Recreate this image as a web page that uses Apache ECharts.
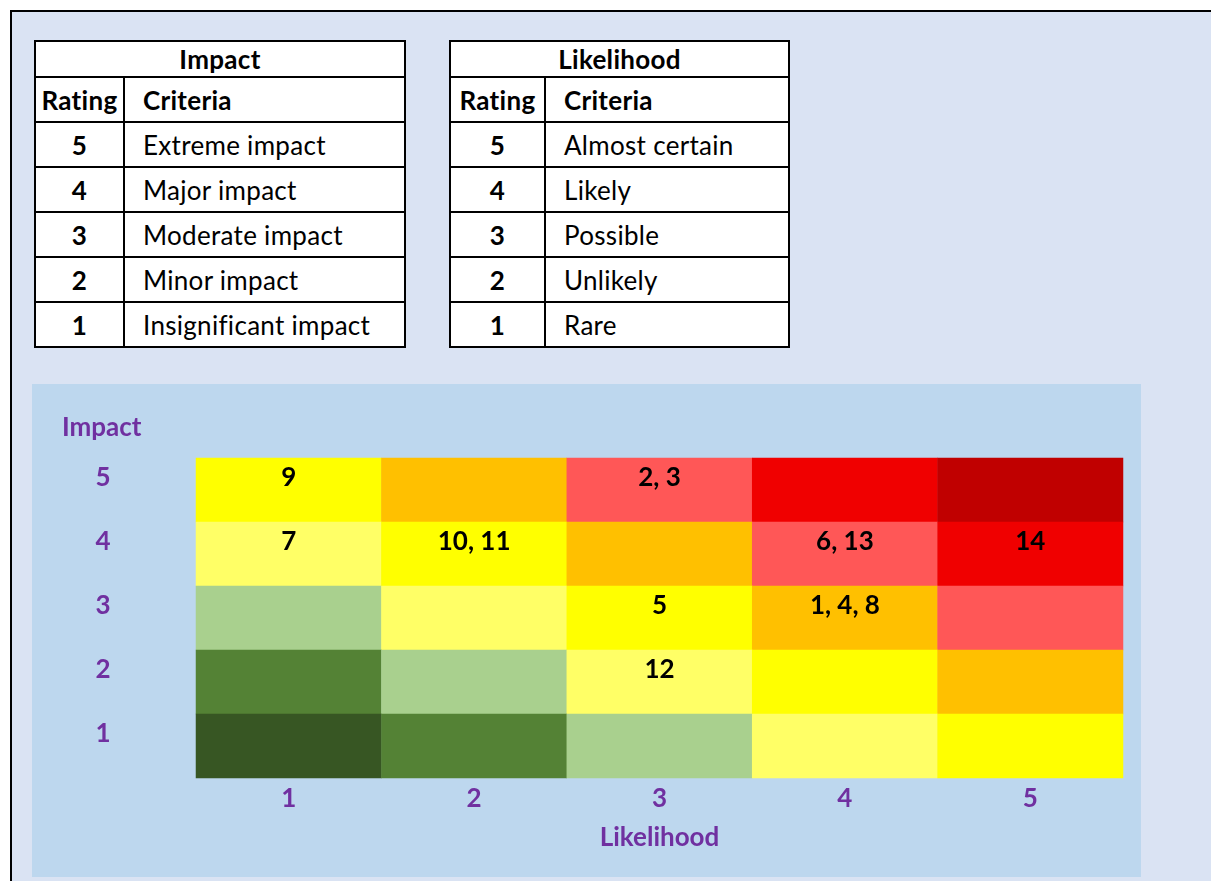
<!DOCTYPE html>
<html lang="en">
<head>
  <meta charset="UTF-8">
  <title>Risk matrix</title>
  <script src="https://cdn.jsdelivr.net/npm/echarts@6.0.0/dist/echarts.min.js"></script>
  <style>
    html, body { margin: 0; padding: 0; background: #fff; overflow: hidden; }
    body { width: 1211px; height: 881px; position: relative; font-family: Lato, "Open Sans", sans-serif; }
    #frame {
      position: absolute; left: 10px; top: 10px; width: 1300px; height: 1000px;
      background: #DAE3F3; border-top: 2px solid #000; border-left: 2px solid #000;
    }
    table.crit {
      position: absolute; border-collapse: collapse; background: #fff;
      font-size: 26px; color: #000; letter-spacing: 0.3px;
    }
    table.crit td, table.crit th {
      border: 2px solid #000; padding: 0; height: 43px; line-height: 26px;
      white-space: nowrap;
    }
    table.crit tr.title th { height: 34px; }
    table.crit th { font-weight: 700; }
    table.crit td.r { font-weight: 700; text-align: center; }
    table.crit td.c, table.crit th.c { text-align: left; padding-left: 18px; }
    #impactTable { left: 34px; top: 40px; width: 372px; }
    #likeTable { left: 449px; top: 40px; width: 341px; }
    #main {
      position: absolute; left: 32px; top: 384px; width: 1109px; height: 493px;
      background: #BDD7EE;
    }
  </style>
</head>
<body>
  <div id="frame"></div>
  <table class="crit" id="impactTable"></table>
  <table class="crit" id="likeTable"></table>
  <div id="main"></div>

  <script>
    // criteria tables
    const ratings = ['5', '4', '3', '2', '1'];
    const impactCriteria = ['Extreme impact', 'Major impact', 'Moderate impact', 'Minor impact', 'Insignificant impact'];
    const likelihoodCriteria = ['Almost certain', 'Likely', 'Possible', 'Unlikely', 'Rare'];

    // matrix axes (bottom to top / left to right)
    const likelihoodCats = ['1', '2', '3', '4', '5'];
    const impactCats = ['1', '2', '3', '4', '5'];

    // risk level per cell, rows from impact 5 down to impact 1, columns likelihood 1..5
    const riskLevel = [
      [4, 5, 6, 7, 8],
      [3, 4, 5, 6, 7],
      [2, 3, 4, 5, 6],
      [1, 2, 3, 4, 5],
      [0, 1, 2, 3, 4]
    ];
    // risk ids placed in each cell, same layout
    const riskIds = [
      ['9', '', '2, 3', '', ''],
      ['7', '10, 11', '', '6, 13', '14'],
      ['', '', '5', '1, 4, 8', ''],
      ['', '', '12', '', ''],
      ['', '', '', '', '']
    ];
    const levelColors = ['#375623', '#548235', '#A9D08E', '#FFFF66', '#FFFF00', '#FFC000', '#FF5757', '#F00000', '#C00000'];

    function buildTable(id, title, col1W, criteria) {
      let html = '<colgroup><col style="width:' + col1W + 'px"><col></colgroup>';
      html += '<tr class="title"><th colspan="2">' + title + '</th></tr>';
      html += '<tr><th>Rating</th><th class="c">Criteria</th></tr>';
      ratings.forEach((r, i) => {
        html += '<tr><td class="r">' + r + '</td><td class="c">' + criteria[i] + '</td></tr>';
      });
      document.getElementById(id).innerHTML = html;
    }
    buildTable('impactTable', 'Impact', 89, impactCriteria);
    buildTable('likeTable', 'Likelihood', 95, likelihoodCriteria);

    // heatmap data: [likelihood index, impact index, level]
    const seriesData = [];
    riskLevel.forEach((row, r) => {
      row.forEach((lvl, c) => {
        seriesData.push([c, 4 - r, lvl]);
      });
    });

    const purple = '#7030A0';
    const font = { fontFamily: 'Lato', fontSize: 26, fontWeight: 'bold' };
    var myChart = echarts.init(document.getElementById('main'));
    var option = {
      backgroundColor: '#BDD7EE',
      title: {
        text: 'Impact',
        left: 30,
        top: 31,
        padding: 0,
        textStyle: Object.assign({ color: purple }, font)
      },
      grid: { left: 164, top: 74, width: 927, height: 320 },
      xAxis: {
        type: 'category',
        data: likelihoodCats,
        name: 'Likelihood',
        nameLocation: 'middle',
        nameGap: 47,
        nameTextStyle: Object.assign({ color: purple }, font),
        axisLine: { show: false },
        axisTick: { show: false },
        splitArea: { show: false },
        axisLabel: Object.assign({ margin: 8, color: purple }, font)
      },
      yAxis: {
        type: 'category',
        data: impactCats,
        axisLine: { show: false },
        axisTick: { show: false },
        splitArea: { show: false },
        axisLabel: Object.assign({
          margin: 93, align: 'center', verticalAlign: 'bottom', lineHeight: 24, color: purple
        }, font)
      },
      visualMap: {
        type: 'piecewise',
        show: false,
        dimension: 2,
        pieces: levelColors.map((c, i) => ({ value: i, color: c }))
      },
      series: [{
        type: 'heatmap',
        data: seriesData,
        itemStyle: { borderWidth: 0 },
        label: Object.assign({
          show: true,
          position: ['50%', 20],
          align: 'center',
          verticalAlign: 'middle',
          color: '#000',
          formatter: function (p) {
            return riskIds[4 - p.data[1]][p.data[0]];
          }
        }, font),
        emphasis: { disabled: true }
      }]
    };
    myChart.setOption(option);
  </script>
</body>
</html>
